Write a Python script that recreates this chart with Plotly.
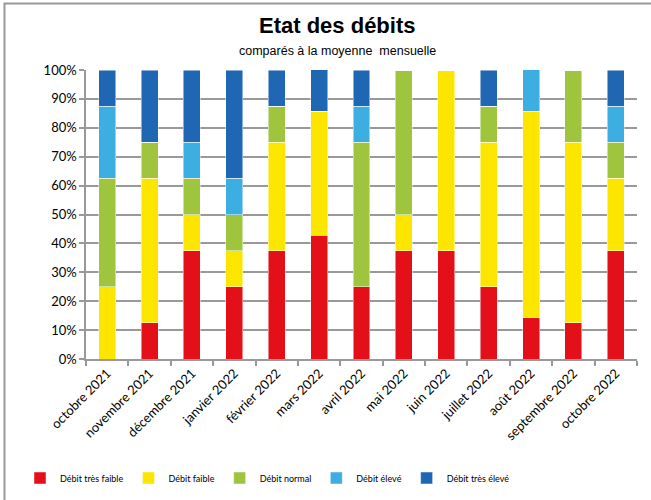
import plotly.graph_objects as go

categories = ["octobre 2021", "novembre 2021", "décembre 2021", "janvier 2022",
              "février 2022", "mars 2022", "avril 2022", "mai 2022", "juin 2022",
              "juillet 2022", "août 2022", "septembre 2022", "octobre 2022"]

tres_faible = [0, 12.5, 37.5, 25, 37.5, 42.86, 25, 37.5, 37.5, 25, 14.29, 12.5, 37.5]
faible      = [25, 50, 12.5, 12.5, 37.5, 42.86, 0, 12.5, 62.5, 50, 71.43, 62.5, 25]
normal      = [37.5, 12.5, 12.5, 12.5, 12.5, 0, 50, 50, 0, 12.5, 0, 25, 12.5]
eleve       = [25, 0, 12.5, 12.5, 0, 0, 12.5, 0, 0, 0, 14.29, 0, 12.5]
tres_eleve  = [12.5, 25, 25, 37.5, 12.5, 14.29, 12.5, 0, 0, 12.5, 0, 0, 12.5]

series = [
    ("Débit très faible", tres_faible, "#E3101A"),
    ("Débit faible", faible, "#FCE600"),
    ("Débit normal", normal, "#9EC53D"),
    ("Débit élevé", eleve, "#3CAEE2"),
    ("Débit très élevé", tres_eleve, "#2067B3"),
]

fig = go.Figure()
for name, vals, col in series:
    fig.add_trace(go.Bar(
        x=categories, y=vals, name=name,
        marker=dict(color=col, line=dict(color="rgba(255,255,255,0.6)", width=0.8)),
    ))

L, R, T, B = 86, 14, 70, 141
W, H = 651, 500
pw, ph = W - L - R, H - T - B

def px(x):
    return (x - L) / pw

def py(y):
    return (H - B - y) / ph

fig.update_layout(
    width=W, height=H,
    margin=dict(l=L, r=R, t=T, b=B, autoexpand=False),
    barmode="stack", bargap=0.6,
    plot_bgcolor="white", paper_bgcolor="white",
    showlegend=True,
    legend=dict(orientation="h", x=px(20), y=py(478), yanchor="middle", xanchor="left",
                font=dict(family="Lato, Open Sans, sans-serif", size=9, color="#000"),
                itemwidth=30, traceorder="normal",
                bgcolor="rgba(0,0,0,0)"),
    xaxis=dict(tickangle=-45, tickfont=dict(family="Lato, Open Sans, sans-serif", size=13, color="#000"),
               showline=True, linecolor="#999", linewidth=1.5,
               ticks="outside", tickson="boundaries", ticklen=5, tickcolor="#999", tickwidth=1.5),
    yaxis=dict(range=[0, 100], dtick=10, ticksuffix="%",
               tickfont=dict(family="Lato, Open Sans, sans-serif", size=13, color="#000"),
               showgrid=True, gridcolor="#999", gridwidth=1.5,
               showline=True, linecolor="#999", linewidth=1.5,
               ticks="outside", ticklen=5, tickcolor="#999", tickwidth=1.5, zeroline=False),
    annotations=[
        dict(text="<b>Etat des débits</b>", x=px(337), y=py(25), xref="paper", yref="paper",
             showarrow=False, font=dict(family="Liberation Sans Narrow, Arial, sans-serif", size=22, color="#000"),
             xanchor="center", yanchor="middle"),
        dict(text="comparés à la moyenne  mensuelle", x=px(337), y=py(51), xref="paper", yref="paper",
             showarrow=False, font=dict(family="Liberation Sans, Arial, sans-serif", size=12.5, color="#000"),
             xanchor="center", yanchor="middle"),
    ],
    shapes=[
        dict(type="rect", xref="paper", yref="paper", x0=px(4.5), x1=px(700), y0=py(520), y1=py(3.5),
             line=dict(color="#999", width=2), fillcolor="rgba(0,0,0,0)", layer="below"),
    ],
)

fig.write_html("out.html", config={"displayModeBar": False},
               post_script="document.body.style.margin='0';")
